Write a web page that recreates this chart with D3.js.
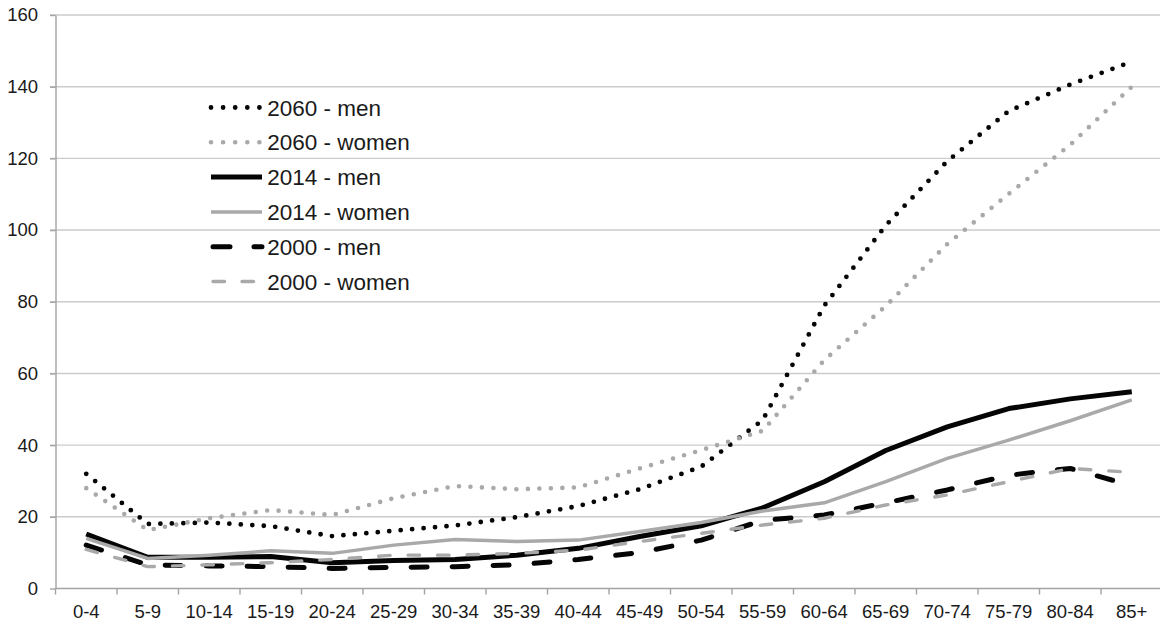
<!DOCTYPE html>
<html>
<head>
<meta charset="utf-8">
<script src="https://cdn.jsdelivr.net/npm/d3@7"></script>
<style>
  html, body { margin: 0; padding: 0; background: #fff; }
  svg { display: block; }
</style>
</head>
<body>
<svg id="chart" width="1160" height="625"></svg>
<script>
// Age groups on the x axis
const ageGroups = ["0-4","5-9","10-14","15-19","20-24","25-29","30-34","35-39","40-44",
  "45-49","50-54","55-59","60-64","65-69","70-74","75-79","80-84","85+"];

// Values per age group for each year / sex
const men2060   = [32, 18, 18.4, 17.4, 14.6, 16.1, 17.6, 19.9, 23.0, 27.7, 34.0, 47, 78.9, 101.3, 119.2, 133.2, 140.6, 147];
const women2060 = [28, 16.3, 19.6, 21.9, 20.5, 25.2, 28.6, 27.7, 28.2, 33.5, 38.6, 44, 63.7, 78.8, 96.1, 110.1, 123.8, 140];
const men2014   = [15.2, 8.7, 8.7, 8.9, 7.2, 7.8, 8.1, 9.3, 11.2, 14.5, 17.5, 22.5, 29.8, 38.5, 45.1, 50.2, 52.9, 54.9];
const women2014 = [14, 8.4, 9.3, 10.5, 9.8, 12.1, 13.7, 13.1, 13.5, 15.9, 18.4, 21.6, 23.9, 29.8, 36.3, 41.4, 46.8, 52.6];
const men2000   = [12.1, 6.6, 6.3, 6.1, 5.6, 5.9, 6.1, 6.6, 8.1, 10.0, 13.5, 19, 20.5, 23.9, 27.5, 31.6, 33.5, 28.7];
const women2000 = [10.9, 6.1, 6.6, 7.2, 8.1, 9.3, 9.3, 9.8, 10.7, 13.1, 15.4, 17.7, 19.6, 23.3, 26.1, 29.8, 33.5, 32.4];

const yTicks = [0, 20, 40, 60, 80, 100, 120, 140, 160];

const seriesNames = ["2060 - men", "2060 - women", "2014 - men", "2014 - women", "2000 - men", "2000 - women"];
const seriesValues = [men2060, women2060, men2014, women2014, men2000, women2000];

// Line styles for each series
const BLACK = "#050505", GREY = "#a9a9a9";
const styles = [
  { color: BLACK, width: 4.8, dash: "0 11.5", legendDash: "0 12.1", cap: "round" },
  { color: GREY,  width: 4.6, dash: "0 11.5", legendDash: "0 12.1", cap: "round" },
  { color: BLACK, width: 5,   dash: null, cap: "butt" },
  { color: GREY,  width: 3.5, dash: null, cap: "butt" },
  { color: BLACK, width: 5,   dash: "16 25", legendDash: "17 24", cap: "round" },
  { color: GREY,  width: 3.4, dash: "11.5 18", legendDash: "11.5 17.5", cap: "round" }
];

const svg = d3.select("#chart");
const plotLeft = 55.5, plotRight = 1162.5, plotTop = 15, plotBottom = 588.5;

const x = d3.scaleBand().domain(ageGroups).range([plotLeft, plotRight]).paddingInner(0).paddingOuter(0);
const y = d3.scaleLinear().domain([0, 160]).range([plotBottom, plotTop]);
const cx = d => x(d) + x.bandwidth() / 2;

const FONT = "'Liberation Sans', Arial, sans-serif";

// Horizontal gridlines (with short ticks left of the axis)
svg.append("g")
  .selectAll("line")
  .data(yTicks.filter(t => t > 0))
  .join("line")
  .attr("x1", plotLeft - 5.5).attr("x2", plotRight)
  .attr("y1", d => y(d)).attr("y2", d => y(d))
  .attr("stroke", "#cbcbcb").attr("stroke-width", 1.4);

// Y axis
const yAxis = svg.append("g")
  .attr("transform", `translate(${plotLeft},0)`)
  .call(d3.axisLeft(y).tickValues(yTicks).tickSize(5.5).tickPadding(12).tickSizeOuter(0));
yAxis.select(".domain").attr("stroke", "#a3a3a3").attr("stroke-width", 1.4);
yAxis.selectAll(".tick line").attr("stroke", "#a3a3a3").attr("stroke-width", 1.4);
yAxis.selectAll(".tick text")
  .attr("font-family", FONT).attr("font-size", 18.5).attr("fill", "#1a1a1a");

// X axis: ticks on the category boundaries
const xAxisG = svg.append("g");
xAxisG.append("line")
  .attr("x1", plotLeft).attr("x2", plotRight)
  .attr("y1", plotBottom).attr("y2", plotBottom)
  .attr("stroke", "#a3a3a3").attr("stroke-width", 1.4);
xAxisG.selectAll("line.tk")
  .data(ageGroups)
  .join("line")
  .attr("class", "tk")
  .attr("x1", d => x(d)).attr("x2", d => x(d))
  .attr("y1", plotBottom).attr("y2", plotBottom + 6)
  .attr("stroke", "#a3a3a3").attr("stroke-width", 1.4);
xAxisG.selectAll("text")
  .data(ageGroups)
  .join("text")
  .attr("x", d => cx(d))
  .attr("y", 618.3)
  .attr("text-anchor", "middle")
  .attr("font-family", FONT).attr("font-size", 18.5).attr("fill", "#1a1a1a")
  .text(d => d);

// Series lines
const line = d3.line()
  .x((d, i) => cx(ageGroups[i]))
  .y(d => y(d))
  .curve(d3.curveLinear);

svg.append("g")
  .selectAll("path")
  .data(seriesValues)
  .join("path")
  .attr("d", d => line(d))
  .attr("fill", "none")
  .attr("stroke", (d, i) => styles[i].color)
  .attr("stroke-width", (d, i) => styles[i].width)
  .attr("stroke-dasharray", (d, i) => styles[i].dash)
  .attr("stroke-linecap", (d, i) => styles[i].cap)
  .attr("stroke-linejoin", "round");

// Legend
const legend = svg.append("g");
const rowY = i => 107.5 + i * 34.8;
seriesNames.forEach((name, i) => {
  const s = styles[i];
  const isDot = s.dash && s.dash.startsWith("0");
  legend.append("line")
    .attr("x1", isDot ? 211 : (s.dash ? 213 : 211))
    .attr("x2", isDot ? 260 : 262)
    .attr("y1", rowY(i)).attr("y2", rowY(i))
    .attr("stroke", s.color)
    .attr("stroke-width", s.width)
    .attr("stroke-dasharray", s.legendDash || null)
    .attr("stroke-linecap", s.cap);
  legend.append("text")
    .attr("x", 267.3)
    .attr("y", rowY(i) + 8)
    .attr("font-family", FONT).attr("font-size", 22.5).attr("fill", "#1a1a1a")
    .text(name);
});
</script>
</body>
</html>
